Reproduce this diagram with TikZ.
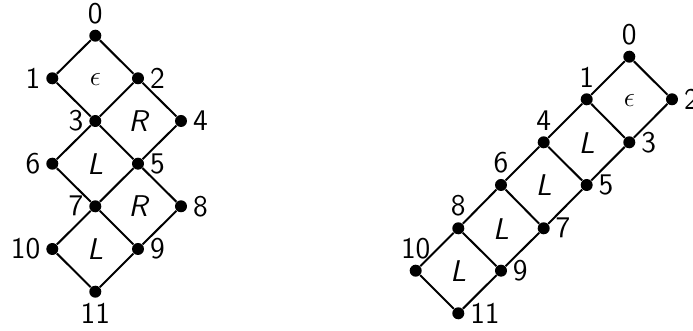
\RequirePackage{fix-cm}
\documentclass[tikz,border=0pt]{standalone}
\usepackage{fontspec}
\begin{document}
\begin{tikzpicture}[x=0.5pt,y=-0.5pt,
  vtx/.style={circle,fill=black,inner sep=0pt,minimum size=6pt},
  edge/.style={line width=1pt},
  every label/.style={font=\fontsize{15}{18}\selectfont\sffamily,inner sep=0pt},
  label distance=2.6pt,
  face/.style={font=\fontsize{15}{18}\selectfont\sffamily\slshape,inner sep=0pt},
  eps/.style={font=\fontsize{14}{17}\selectfont,inner sep=0pt}]
\useasboundingbox (0,0) rectangle (693,331);
% left diagram
\node[vtx,label=above:0] (a0) at (95.3,35.7) {};
\node[vtx,label=left:1] (a1) at (52.3,78.3) {};
\node[vtx,label=right:2] (a2) at (138,78.3) {};
\node[vtx,label=left:3] (a3) at (95.3,121) {};
\node[vtx,label=right:4] (a4) at (181,121) {};
\node[vtx,label=right:5] (a5) at (138,163.7) {};
\node[vtx,label=left:6] (a6) at (52.3,163.7) {};
\node[vtx,label=left:7] (a7) at (95.3,206.3) {};
\node[vtx,label=right:8] (a8) at (181,206.3) {};
\node[vtx,label=right:9] (a9) at (138,249) {};
\node[vtx,label=left:10] (a10) at (52.3,249) {};
\node[vtx,label=below:11] (a11) at (95.3,291.7) {};
\foreach \u/\v in {0/1,0/2,1/3,2/3,2/4,3/5,4/5,3/6,6/7,5/7,5/8,7/9,8/9,7/10,10/11,9/11}
  \draw[edge] (a\u) -- (a\v);
\node[eps] (ae) at (95.3,79.5) {$\epsilon$};
\node[face] (ar1) at (138,121) {R};
\node[face] (al1) at (95.3,164.2) {L};
\node[face] (ar2) at (138,206.3) {R};
\node[face] (al2) at (95.3,249.5) {L};
% right diagram
\node[vtx,label=above:0] (b0) at (629.3,56.7) {};
\node[vtx,label=above:1] (b1) at (586.7,99.3) {};
\node[vtx,label=right:2] (b2) at (672,99.3) {};
\node[vtx,label=right:3] (b3) at (629.3,142.3) {};
\node[vtx,label=above:4] (b4) at (543.7,142.3) {};
\node[vtx,label=right:5] (b5) at (586.7,185) {};
\node[vtx,label=above:6] (b6) at (501,185) {};
\node[vtx,label=right:7] (b7) at (543.7,228.3) {};
\node[vtx,label=above:8] (b8) at (458.3,228.3) {};
\node[vtx,label=right:9] (b9) at (501,270.7) {};
\node[vtx,label=above:10] (b10) at (415.7,270.7) {};
\node[vtx,label=right:11] (b11) at (458.3,313.3) {};
\foreach \u/\v in {0/1,0/2,1/3,2/3,1/4,4/5,3/5,4/6,6/7,5/7,6/8,8/9,7/9,8/10,10/11,9/11}
  \draw[edge] (b\u) -- (b\v);
\node[eps] (be) at (629.3,100.5) {$\epsilon$};
\node[face] (bl1) at (586.7,142.8) {L};
\node[face] (bl2) at (543.7,185.5) {L};
\node[face] (bl3) at (501,228.8) {L};
\node[face] (bl4) at (458.3,271.2) {L};
\end{tikzpicture}
\end{document}
